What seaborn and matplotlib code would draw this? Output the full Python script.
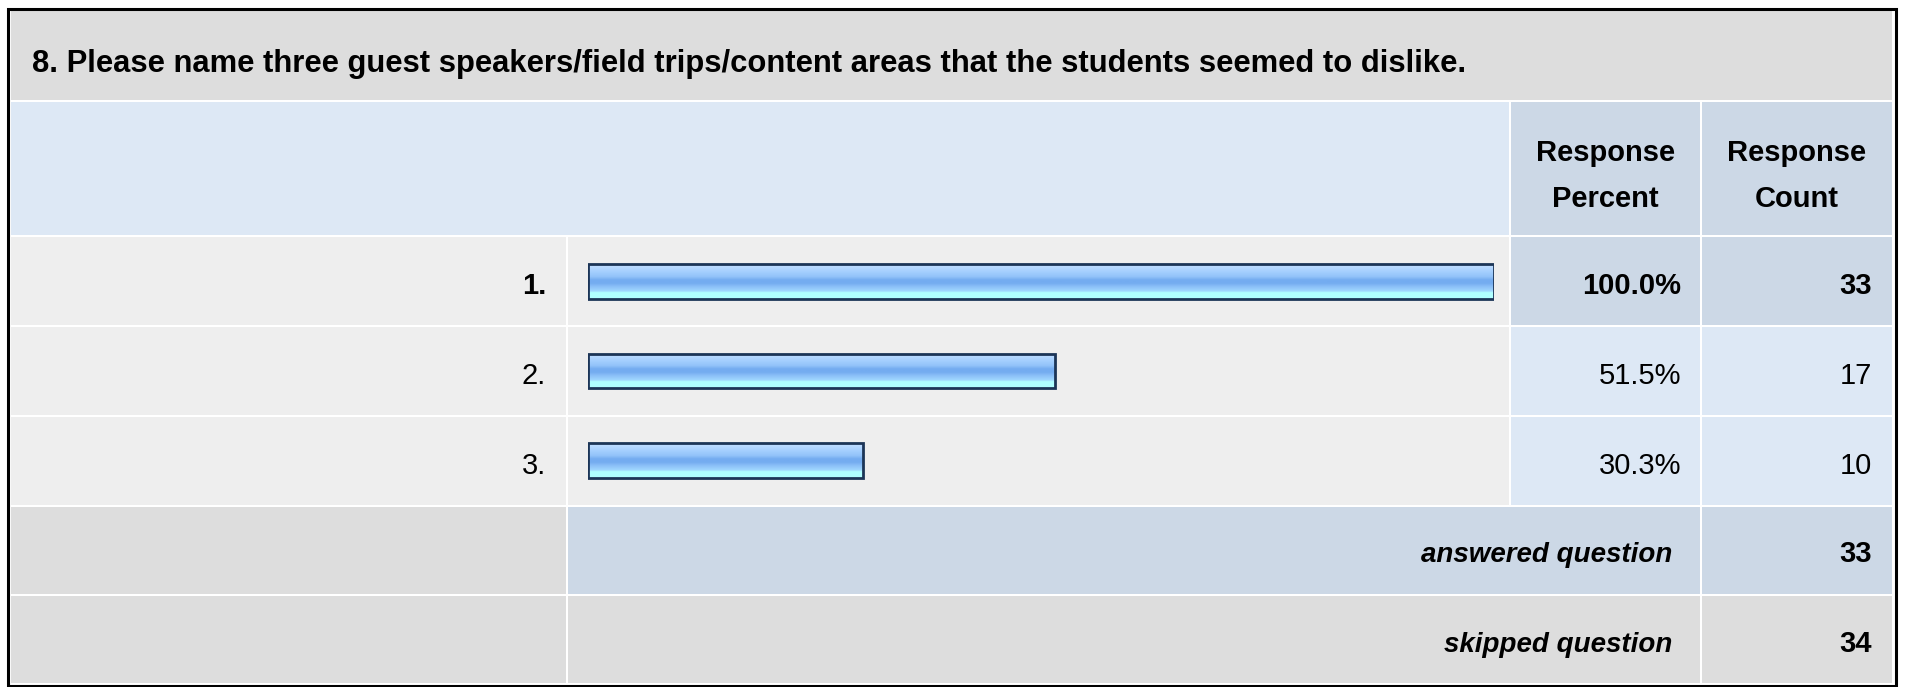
import numpy as np
import pandas as pd
import matplotlib
matplotlib.use("Agg")
import matplotlib.pyplot as plt
from matplotlib.patches import Rectangle
from matplotlib.colors import LinearSegmentedColormap
import seaborn as sns

sns.set_theme(style="white")
plt.rcParams['font.family'] = ['Liberation Sans', 'DejaVu Sans']
plt.rcParams['text.color'] = 'black'

# survey data
question = "8. Please name three guest speakers/field trips/content areas that the students seemed to dislike."
choices = ["1.", "2.", "3."]
percents = [100.0, 51.5, 30.3]
counts = [33, 17, 10]
answered_count = 33
skipped_count = 34
header_pct = ["Response", "Percent"]
header_cnt = ["Response", "Count"]

W, H = 1907, 687
fig = plt.figure(figsize=(W / 100, H / 100), dpi=100)
ax = fig.add_axes([0, 0, 1, 1])
ax.set_xlim(0, W)
ax.set_ylim(H, 0)
ax.axis('off')

# table grid in pixels
col_label = (11, 566)
col_bar = (568, 1509)
col_pct = (1511, 1700)
col_cnt = (1702, 1892)
row_title = (11, 100)
row_head = (102, 235)
row_choice = [(237, 325), (327, 415), (417, 505)]
row_answered = (507, 594)
row_skipped = (596, 683)

GRAY = '#dddddd'
LIGHT = '#eeeeee'
BLUE = '#dde8f5'
BLUE2 = '#ccd8e6'
FS = 21


def cell(cols, rows, color):
    ax.add_patch(Rectangle((cols[0], rows[0]), cols[1] - cols[0], rows[1] - rows[0],
                           facecolor=color, edgecolor='none'))


def mid(r):
    return (r[0] + r[1]) / 2


# backgrounds
cell((col_label[0], col_cnt[1]), row_title, GRAY)
cell((col_label[0], col_bar[1]), row_head, BLUE)
cell(col_pct, row_head, BLUE2)
cell(col_cnt, row_head, BLUE2)
for i, r in enumerate(row_choice):
    cell(col_label, r, LIGHT)
    cell(col_bar, r, LIGHT)
    c = BLUE2 if i == 0 else BLUE
    cell(col_pct, r, c)
    cell(col_cnt, r, c)
cell(col_label, row_answered, GRAY)
cell((col_bar[0], col_pct[1]), row_answered, BLUE2)
cell(col_cnt, row_answered, BLUE2)
cell(col_label, row_skipped, GRAY)
cell((col_bar[0], col_pct[1]), row_skipped, GRAY)
cell(col_cnt, row_skipped, GRAY)

# outer border
ax.add_patch(Rectangle((7.5, 8.5), 1888, 677.5, fill=False, edgecolor='black', linewidth=2.2))

# texts
ax.text(32, 72, question, fontsize=22.3, fontweight='bold', va='baseline', ha='left')
for col, words in [(col_pct, header_pct), (col_cnt, header_cnt)]:
    ax.text(mid(col), 161, words[0], fontsize=FS, fontweight='bold', ha='center', va='baseline')
    ax.text(mid(col), 207, words[1], fontsize=FS, fontweight='bold', ha='center', va='baseline')

for i, r in enumerate(row_choice):
    w = 'bold' if i == 0 else 'normal'
    base = mid(r) + 13
    ax.text(546, base, choices[i], fontsize=FS, fontweight=w, ha='right', va='baseline')
    ax.text(1681, base, f"{percents[i]:.1f}%", fontsize=FS, fontweight=w, ha='right', va='baseline')
    ax.text(1872, base, str(counts[i]), fontsize=FS, fontweight=w, ha='right', va='baseline')

for r, lab, val in [(row_answered, "answered question", answered_count),
                    (row_skipped, "skipped question", skipped_count)]:
    base = mid(r) + 12
    ax.text(1672, base, lab, fontsize=20, fontweight='bold', fontstyle='italic', ha='right', va='baseline')
    ax.text(1872, base, str(val), fontsize=FS, fontweight='bold', ha='right', va='baseline')

# bars
bx0, bx1 = 588, 1494
by0, by1 = row_choice[0][0], row_choice[-1][1]
bax = fig.add_axes([bx0 / W, 1 - by1 / H, (bx1 - bx0) / W, (by1 - by0) / H])
df = pd.DataFrame({'choice': choices, 'percent': percents})
sns.barplot(data=df, x='percent', y='choice', orient='h', ax=bax, width=0.39,
            color='#8cc0f8', saturation=1, edgecolor='#1c3557', linewidth=2)
bax.axis('off')
bax.patch.set_alpha(0)

grad = LinearSegmentedColormap.from_list('bar', [
    (0.0, '#c4e0ff'), (0.2, '#a6d0ff'), (0.35, '#94c4fa'), (0.45, '#74acf0'),
    (0.55, '#74acf0'), (0.65, '#8cc0f8'), (0.78, '#a0d8ff'), (0.82, '#b0ffff'), (1.0, '#b0ffff')])
g = np.linspace(0, 1, 64).reshape(-1, 1)
for p in bax.patches:
    x0, y0, w, h = p.get_x(), p.get_y(), p.get_width(), p.get_height()
    im = bax.imshow(g, cmap=grad, aspect='auto', origin='upper',
                    extent=(x0, x0 + w, y0 + h, y0), zorder=p.get_zorder() - 0.1)
    im.set_clip_path(p)
    p.set_facecolor('none')
bax.set_xlim(0, 100)
bax.set_ylim(len(choices) - 0.5, -0.5)

fig.savefig('out.png', dpi=100)
